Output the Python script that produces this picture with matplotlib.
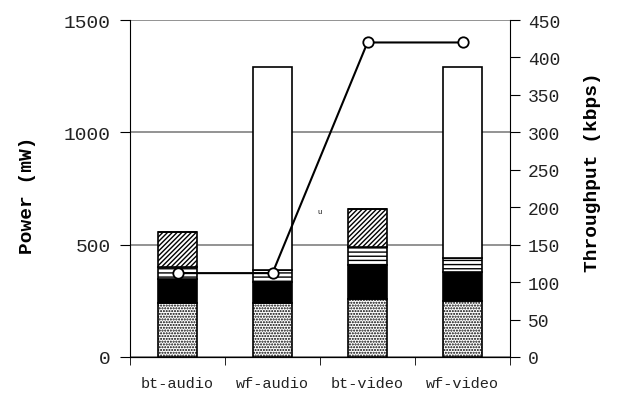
import numpy as np
import matplotlib.pyplot as plt

categories = ["bt-audio", "wf-audio", "bt-video", "wf-video"]
# stacked power components (mW), bottom to top
seg_stipple = [240, 240, 258, 249]
seg_black = [107, 94, 151, 129]
seg_stripes = [53, 53, 81, 62]
seg_diag = [156, 0, 169, 0]
seg_white = [0, 903, 0, 850]
throughput = [112, 112, 420, 420]

plt.rcParams["hatch.linewidth"] = 1.0
fig = plt.figure(figsize=(6.18, 4.02), dpi=100)
ax = fig.add_axes([130 / 618, 44 / 402, 380 / 618, 337 / 402])

x = np.arange(len(categories))
w = 0.42
segs = [
    (seg_stipple, "white", "......"),
    (seg_black, "black", None),
    (seg_stripes, "white", "----"),
    (seg_diag, "white", "///////"),
    (seg_white, "white", None),
]
bottom = np.zeros(len(categories))
for vals, fc, hatch in segs:
    vals = np.array(vals, dtype=float)
    ax.bar(x, vals, w, bottom=bottom, color=fc, hatch=hatch,
           edgecolor="black", linewidth=1.2, zorder=3)
    bottom += vals

ax.set_xlim(-0.5, len(categories) - 0.5)
ax.set_ylim(0, 1500)
ax.set_yticks([0, 500, 1000, 1500])
ax.yaxis.grid(True, color="#808080", linewidth=1.2, zorder=0)
ax.set_axisbelow(True)
ax.spines["top"].set_visible(False)
ax.spines["right"].set_visible(False)
ax.set_xticks(x)
ax.set_xticklabels(categories, family="Liberation Mono", fontsize=11,
                   color="#222222")
ax.tick_params(axis="x", length=0, pad=14)
ax.set_xticks(np.arange(-0.5, len(categories)), minor=True)
ax.tick_params(axis="x", which="minor", length=6, direction="out")
ax.tick_params(axis="y", length=7, direction="out", pad=7)
for lab in ax.get_yticklabels():
    lab.set_family("Liberation Mono")
    lab.set_fontsize(14)
    lab.set_color("#222222")
ax.set_ylabel("Power (mW)", family="Liberation Mono", fontweight="bold",
              fontsize=14)
ax.yaxis.set_label_coords(-0.247, 0.484)

ax2 = ax.twinx()
ax2.plot(x, throughput, color="black", linewidth=1.5, marker="o",
         markersize=7.5, markerfacecolor="white", markeredgecolor="black",
         markeredgewidth=1.3, zorder=5)
ax2.set_ylim(0, 450)
ax2.set_yticks(np.arange(0, 451, 50))
ax2.spines["top"].set_visible(False)
ax2.spines["left"].set_visible(False)
ax2.tick_params(axis="y", length=7, direction="out", pad=6)
for lab in ax2.get_yticklabels():
    lab.set_family("Liberation Mono")
    lab.set_fontsize(13)
    lab.set_color("#222222")
ax2.set_ylabel("Throughput (kbps)", family="Liberation Mono",
               fontweight="bold", fontsize=14)
ax2.yaxis.set_label_coords(1.195, 0.552)

fig.text(320 / 618, 1 - 213 / 402, "u", fontsize=5, family="Liberation Mono",
         ha="center", va="center")

fig.savefig("out.png", dpi=100)
